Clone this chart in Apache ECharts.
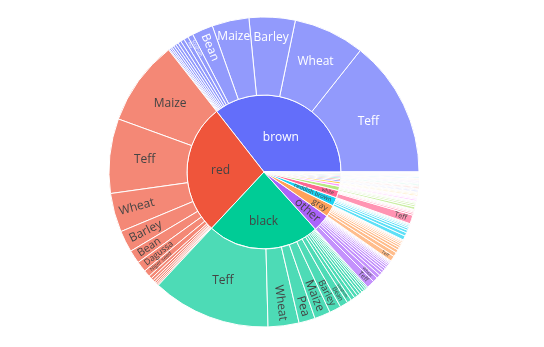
<!DOCTYPE html>
<html>
<head>
<meta charset="utf-8">
<script src="https://cdn.jsdelivr.net/npm/echarts@6/dist/echarts.min.js"></script>
<style>
  html, body { margin: 0; padding: 0; background: #fff; }
  #chart { width: 544px; height: 347px; }
</style>
</head>
<body>
<div id="chart"></div>
<script>
// Seed colour groups (inner ring), in drawing order
const seedColors = ['brown', 'red', 'black', 'other', 'gray', 'reddish brown', 'white',
  'yellow', 'mixed', 'light brown', 'dark brown', 'green', 'purple', 'cream',
  'spotted', 'dark red', 'orange', 'pink', 'blue'];

// Crops within each seed colour (outer ring) and their sample counts
const brownCrops = ['Teff', 'Wheat', 'Barley', 'Maize', 'Bean', 'Sorghum', 'Pea', 'Dagussa', 'Faba bean', 'Chickpea', 'Lentil', 'Oat', 'Field pea', 'Linseed', 'Niger seed'];
const brownCounts = [516, 267, 173, 139, 79, 20, 17, 14, 12, 10, 9, 8, 6, 6, 4];

const redCrops = ['Maize', 'Teff', 'Wheat', 'Barley', 'Bean', 'Dagussa', 'Niger seed', 'Sorghum', 'Pea', 'Faba bean', 'Lentil', 'Linseed', 'Oat'];
const redCounts = [320, 280, 146, 81, 50, 40, 25, 12, 10, 8, 7, 6, 5];

const blackCrops = ['Teff', 'Wheat', 'Pea', 'Maize', 'Barley', 'Bean', 'Sorghum', 'Dagussa', 'Faba bean', 'Chickpea', 'Lentil', 'Niger seed', 'Linseed', 'Oat', 'Sesame'];
const blackCounts = [445, 116, 61, 60, 44, 30, 17, 15, 13, 11, 10, 9, 8, 6, 5];

const otherCrops = ['Teff', 'Wheat', 'Maize', 'Barley', 'Bean', 'Sorghum', 'Pea', 'Dagussa', 'Faba bean', 'Chickpea', 'Lentil', 'Linseed', 'Oat'];
const otherCounts = [30, 19, 14, 12, 10, 9, 8, 7, 6, 5, 4, 3, 3];

const grayCrops = ['Teff', 'Wheat', 'Barley', 'Maize', 'Bean', 'Sorghum', 'Pea', 'Dagussa', 'Faba bean', 'Lentil'];
const grayCounts = [20, 16, 12, 10, 8, 7, 6, 5, 3, 3];

const reddishBrownCrops = ['Teff', 'Maize', 'Wheat', 'Barley', 'Bean', 'Sorghum', 'Pea', 'Dagussa'];
const reddishBrownCounts = [16, 13, 10, 8, 6, 5, 4, 3];

const whiteCrops = ['Teff', 'Wheat', 'Maize', 'Barley', 'Bean', 'Sorghum', 'Pea'];
const whiteCounts = [33, 7, 5, 4, 3, 2, 1];

// Minor seed colours share one crop list
const minorCrops = ['Teff', 'Wheat', 'Maize', 'Barley', 'Bean', 'Sorghum'];
const yellowCounts = [10, 7, 6, 4, 3, 2];
const mixedCounts = [6, 4, 3, 3, 2, 1];
const lightBrownCounts = [5, 4, 3, 2, 2, 1];
const darkBrownCounts = [4, 3, 2, 2, 1];
const greenCounts = [4, 3, 2, 1, 1];
const purpleCounts = [3, 3, 2, 1, 1];
const creamCounts = [3, 2, 2, 1, 1];
const spottedCounts = [3, 2, 1, 1, 1];
const darkRedCounts = [3, 2, 1, 1];
const orangeCounts = [2, 2, 1, 1];
const pinkCounts = [2, 1, 1, 1];
const blueCounts = [2, 1, 1];

const groupCrops = [brownCrops, redCrops, blackCrops, otherCrops, grayCrops, reddishBrownCrops, whiteCrops,
  minorCrops, minorCrops, minorCrops, minorCrops, minorCrops, minorCrops, minorCrops,
  minorCrops, minorCrops, minorCrops, minorCrops, minorCrops];
const groupCounts = [brownCounts, redCounts, blackCounts, otherCounts, grayCounts, reddishBrownCounts, whiteCounts,
  yellowCounts, mixedCounts, lightBrownCounts, darkBrownCounts, greenCounts, purpleCounts, creamCounts,
  spottedCounts, darkRedCounts, orangeCounts, pinkCounts, blueCounts];

// ---- styling ----
const palette = ['#636efa', '#EF553B', '#00cc96', '#ab63fa', '#FFA15A', '#19d3f3', '#FF6692', '#B6E880', '#FF97FF', '#FECB52'];
const FONT = '"Open Sans", "DejaVu Sans", sans-serif';
const R_INNER = 77, R_OUTER = 155;

function hexToRgb(h) {
  const n = parseInt(h.slice(1), 16);
  return [(n >> 16) & 255, (n >> 8) & 255, n & 255];
}
function fade(h, a) {
  const c = hexToRgb(h).map(v => Math.round(v * a + 255 * (1 - a)));
  return 'rgb(' + c.join(',') + ')';
}
function textColorFor(h) {
  const [r, g, b] = hexToRgb(h);
  return (r * 299 + g * 587 + b * 114) / 1000 < 128 ? '#ffffff' : '#444444';
}

const grandTotal = groupCounts.reduce((s, arr) => s + arr.reduce((a, b) => a + b, 0), 0);

// Padding that nudges a centred, unrotated (rich) label outward along the sector's mid ray
function outwardPadding(midRad, s) {
  const sx = s * Math.cos(midRad), sy = -s * Math.sin(midRad);
  return [sy > 0 ? 2 * sy : 0, sx < 0 ? -2 * sx : 0, sy < 0 ? -2 * sy : 0, sx > 0 ? 2 * sx : 0];
}

function horizontalLabel(lab, size, color, midRad, shift) {
  lab.rotate = 0;
  lab.formatter = '{t|{b}}';
  lab.rich = { t: { fontSize: size, color: color, fontFamily: FONT, lineHeight: size + 2 } };
  lab.padding = outwardPadding(midRad, shift);
}

// Label sizing: horizontal text in wide sectors, radial text shrunk to fit otherwise
function labelFor(name, value, startDeg, ring, color) {
  const deg = value / grandTotal * 360;
  const rad = deg * Math.PI / 180;
  const mid = (startDeg + deg / 2) * Math.PI / 180;
  const lab = { color: color, fontFamily: FONT };
  let size;
  if (ring === 0) {
    if (deg >= 60) {
      size = 12;
      horizontalLabel(lab, size, color, mid, Math.max(0, (110 - deg) * 0.45));
    } else {
      size = Math.min(12, rad * 58 * 0.9, 64 / (0.6 * name.length));
      lab.rotate = 'radial';
      lab.align = 'right';
      lab.distance = 4;
    }
  } else {
    if (deg >= 20 || (deg >= 13 && Math.abs(Math.sin(mid)) > 0.9)) {
      size = 12;
      horizontalLabel(lab, size, color, mid, Math.max(0, (31 - deg) * 1.35));
    } else {
      size = Math.min(12, rad * 130 * 0.95, 70 / (0.6 * name.length));
      lab.rotate = 'radial';
      lab.align = 'right';
      lab.distance = 5;
    }
  }
  lab.fontSize = size;
  lab.show = size >= 3.5;
  return lab;
}

const data = [];
let angle = 0;
seedColors.forEach((group, gi) => {
  const base = palette[gi % palette.length];
  const txt = textColorFor(base);
  const crops = groupCrops[gi];
  const counts = groupCounts[gi];
  const groupValue = counts.reduce((a, b) => a + b, 0);
  const children = [];
  let childAngle = angle;
  counts.forEach((v, ci) => {
    children.push({
      name: crops[ci],
      value: v,
      itemStyle: { color: fade(base, 0.7) },
      label: labelFor(crops[ci], v, childAngle, 1, txt)
    });
    childAngle += v / grandTotal * 360;
  });
  data.push({
    name: group,
    itemStyle: { color: base },
    label: labelFor(group, groupValue, angle, 0, txt),
    children: children
  });
  angle += groupValue / grandTotal * 360;
});

const chart = echarts.init(document.getElementById('chart'), null, { renderer: 'canvas' });
chart.setOption({
  animation: false,
  backgroundColor: '#ffffff',
  series: [{
    type: 'sunburst',
    center: [264, 172],
    radius: [0, R_OUTER],
    startAngle: 0,
    clockwise: false,
    sort: null,
    nodeClick: false,
    emphasis: { disabled: true },
    itemStyle: { borderColor: '#ffffff', borderWidth: 1 },
    label: { fontFamily: FONT },
    levels: [
      {},
      { r0: 0, r: R_INNER },
      { r0: R_INNER, r: R_OUTER }
    ],
    data: data
  }]
});
</script>
</body>
</html>
